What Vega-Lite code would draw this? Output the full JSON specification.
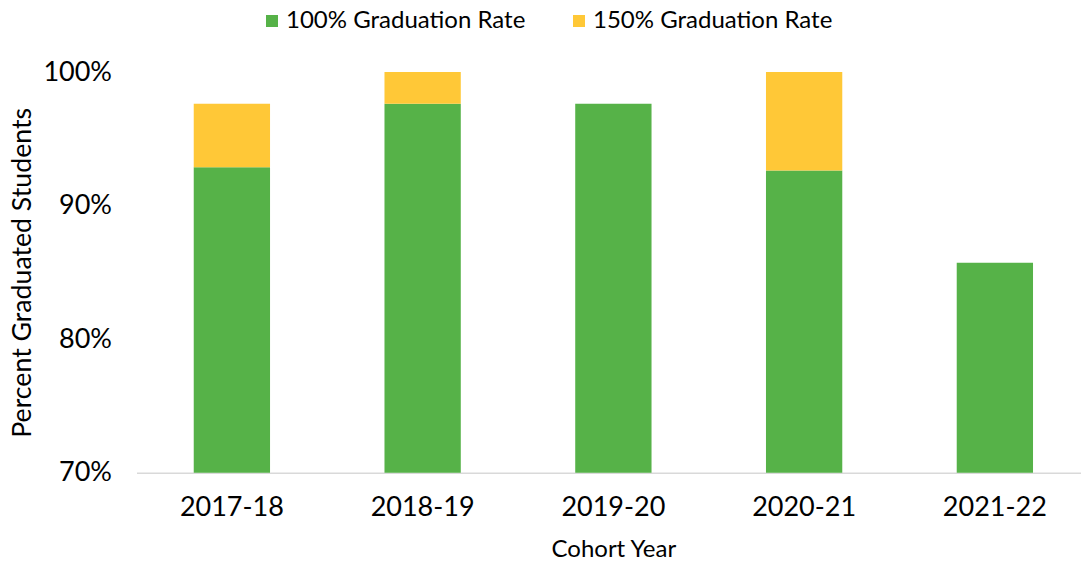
{
  "$schema": "https://vega.github.io/schema/vega-lite/v6.json",
  "width": 944.5,
  "height": 400.7,
  "autosize": {"type": "none"},
  "padding": {"left": 136.5, "top": 72, "right": 0, "bottom": 89.3},
  "background": "white",
  "config": {"view": {"stroke": null}, "font": "Lato", "text": {"font": "Lato"}},
  "data": {
    "values": [
      {"year": "2017-18", "series": "100% Graduation Rate", "value": 0.9286},
      {"year": "2017-18", "series": "150% Graduation Rate", "value": 0.0476},
      {"year": "2018-19", "series": "100% Graduation Rate", "value": 0.9762},
      {"year": "2018-19", "series": "150% Graduation Rate", "value": 0.0238},
      {"year": "2019-20", "series": "100% Graduation Rate", "value": 0.9762},
      {"year": "2020-21", "series": "100% Graduation Rate", "value": 0.9263},
      {"year": "2020-21", "series": "150% Graduation Rate", "value": 0.0737},
      {"year": "2021-22", "series": "100% Graduation Rate", "value": 0.8571}
    ]
  },
  "mark": {"type": "bar"},
  "encoding": {
    "x": {
      "field": "year",
      "type": "nominal",
      "sort": null,
      "scale": {"paddingInner": 0.6, "paddingOuter": 0.2758, "align": 0.544},
      "axis": {
        "title": "Cohort Year",
        "titleFont": "Lato",
        "titleFontSize": 24,
        "titleFontWeight": "normal",
        "titleColor": "#000000",
        "titleX": 476.8,
        "titlePadding": 17,
        "labelFont": "Lato",
        "labelFontSize": 27,
        "labelColor": "#000000",
        "labelAngle": 0,
        "labelPadding": 22,
        "ticks": false,
        "domainColor": "#D9D9D9",
        "domainWidth": 1.5,
        "grid": false
      }
    },
    "y": {
      "field": "value",
      "type": "quantitative",
      "stack": "zero",
      "scale": {"domain": [0.7, 1.0], "clamp": true, "nice": false, "zero": false},
      "axis": {
        "title": "Percent Graduated Students",
        "titleFont": "Lato",
        "titleFontSize": 26.7,
        "titleFontWeight": "normal",
        "titleColor": "#000000",
        "titlePadding": 6.5,
        "labelFont": "Lato",
        "labelFontSize": 27,
        "labelColor": "#000000",
        "labelPadding": 25,
        "values": [0.7, 0.8, 0.9, 1.0],
        "format": ".0%",
        "ticks": false,
        "domain": false,
        "grid": false
      }
    },
    "order": {"field": "series", "type": "ordinal", "sort": "ascending"},
    "color": {
      "field": "series",
      "type": "nominal",
      "scale": {
        "domain": ["100% Graduation Rate", "150% Graduation Rate"],
        "range": ["#56B248", "#FFC837"]
      },
      "legend": {
        "title": null,
        "orient": "none",
        "direction": "horizontal",
        "legendX": 123.5,
        "legendY": -63,
        "symbolType": "square",
        "symbolSize": 144,
        "symbolStrokeWidth": 0,
        "labelFont": "Lato",
        "labelFontSize": 24,
        "labelColor": "#000000",
        "labelOffset": 2,
        "columnPadding": 41,
        "labelLimit": 400
      }
    }
  }
}
